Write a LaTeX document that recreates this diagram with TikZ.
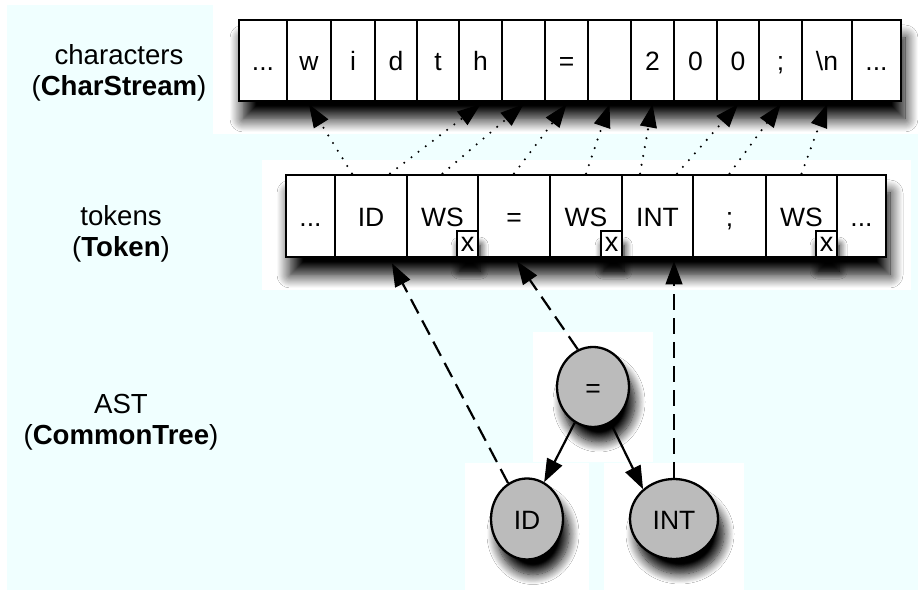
\documentclass[tikz,border=0pt]{standalone}
\usepackage{fontspec}
\setmainfont{Liberation Sans}
\usetikzlibrary{arrows.meta,shapes.geometric,shadows.blur}
\definecolor{bgcyan}{HTML}{F0FFFF}
\definecolor{nodegray}{HTML}{BBBBBB}
\begin{document}
\begin{tikzpicture}[x=1pt,y=1pt,
  rowshadow/.style={blur shadow={shadow xshift=4pt, shadow yshift=-18pt, shadow blur radius=13pt, shadow blur steps=14, shadow opacity=100}},
  cell/.style={draw, line width=2.7pt, fill=white, inner sep=0pt, text height=21pt, text depth=0pt, font=\fontsize{26.5}{30}\selectfont},
  crow/.style={cell, minimum height=81pt},
  trow/.style={cell, minimum height=82pt},
  xbox/.style={draw, line width=2.3pt, fill=white, inner sep=0pt, minimum width=21pt, minimum height=26pt, font=\fontsize{27}{30}\selectfont, anchor=south east, blur shadow={shadow xshift=2pt, shadow yshift=-14pt, shadow blur radius=8pt, shadow blur steps=10, shadow opacity=100}},
  tnode/.style={ellipse, draw, line width=2.3pt, fill=nodegray, inner sep=0pt, text height=21pt, text depth=0pt, font=\fontsize{26.5}{30}\selectfont, blur shadow={shadow xshift=6pt, shadow yshift=-15pt, shadow blur radius=10pt, shadow blur steps=12, shadow opacity=100}},
  lab/.style={align=center, font=\fontsize{27.6}{31}\selectfont},
  arrtip/.style={-{Triangle[length=23pt,width=17pt,fill=black,line width=1pt]}},
  dotarr/.style={arrtip, line width=2.3pt, dash pattern=on 0pt off 9pt, line cap=round},
  dasharr/.style={arrtip, line width=2.2pt, dash pattern=on 16pt off 8pt},
  treearr/.style={arrtip, line width=2.2pt}]
\useasboundingbox (0,0) rectangle (918,591);
% backgrounds
\fill[bgcyan] (7,1) rectangle (918,586);
\fill[white] (213,457) rectangle (918,591);
\fill[white] (262,301) rectangle (911,431);
\fill[white] (533,129) rectangle (653,259);
\fill[white] (465,0) rectangle (589,128);
\fill[white] (604,0) rectangle (744,128);
% labels
\node[lab] (lc) at (119,518.5) {characters\\(\textbf{CharStream})};
\node[lab] (lt) at (121,357.5) {tokens\\(\textbf{Token})};
\node[lab] (la) at (121,168.5) {AST\\(\textbf{CommonTree})};
% character row
\fill[white, rowshadow] (239,490) rectangle (901,571);
\node[crow, minimum width=48pt] (c1) at (263,530.5) {...};
\node[crow, minimum width=44pt] (c2) at (309,530.5) {w};
\node[crow, minimum width=44pt] (c3) at (353,530.5) {i};
\node[crow, minimum width=42pt] (c4) at (396,530.5) {d};
\node[crow, minimum width=42pt] (c5) at (438,530.5) {t};
\node[crow, minimum width=43pt] (c6) at (480.5,530.5) {h};
\node[crow, minimum width=43pt] (c7) at (523.5,530.5) {};
\node[crow, minimum width=43pt] (c8) at (566.5,530.5) {=};
\node[crow, minimum width=43pt] (c9) at (609.5,530.5) {};
\node[crow, minimum width=43pt] (c10) at (652.5,530.5) {2};
\node[crow, minimum width=43pt] (c11) at (695.5,530.5) {0};
\node[crow, minimum width=42pt] (c12) at (738,530.5) {0};
\node[crow, minimum width=43pt] (c13) at (780.5,530.5) {;};
\node[crow, minimum width=50pt] (c14) at (827,530.5) {\textbackslash n};
\node[crow, minimum width=49pt] (c15) at (876.5,530.5) {...};
% token row
\fill[white, rowshadow] (286,334) rectangle (886,416);
\node[trow, minimum width=49pt] (t1) at (310.5,375) {...};
\node[trow, minimum width=72pt] (t2) at (371,375) {ID};
\node[trow, minimum width=71pt] (t3) at (442.5,375) {WS};
\node[trow, minimum width=72pt] (t4) at (514,375) {=};
\node[trow, minimum width=72pt] (t5) at (586,375) {WS};
\node[trow, minimum width=71pt] (t6) at (657.5,375) {INT};
\node[trow, minimum width=73pt] (t7) at (729.5,375) {;};
\node[trow, minimum width=71pt] (t8) at (801.5,375) {WS};
\node[trow, minimum width=49pt] (t9) at (861.5,375) {...};
\node[xbox] (x3) at (t3.south east) {x};
\node[xbox] (x5) at (t5.south east) {x};
\node[xbox] (x8) at (t8.south east) {x};
% tree
\node[tnode, minimum width=72pt, minimum height=80pt] (eq) at (593,204) {=};
\node[tnode, minimum width=72pt, minimum height=81pt] (idn) at (527,72) {ID};
\node[tnode, minimum width=88pt, minimum height=80pt] (intn) at (674,72) {INT};
\draw[treearr] (eq) -- (idn.65);
\draw[treearr] (eq) -- (intn.136);
% dashed links tree -> tokens
\draw[dasharr] (idn) -- ([xshift=21pt,yshift=-5pt]t2.south);
\draw[dasharr] (eq.112) -- ([xshift=3pt,yshift=-3pt]t4.south);
\draw[dasharr] (intn.north) -- ([yshift=-3pt]intn.north |- t6.south);
% dotted links tokens -> characters
\draw[dotarr] ([xshift=-19pt]t2.north) -- ([yshift=-2pt]c2.south);
\draw[dotarr] ([xshift=19pt]t2.north) -- ([yshift=-2pt]c6.south);
\draw[dotarr] (t3.north) -- ([yshift=-2pt]c7.south);
\draw[dotarr] (t4.north) -- ([yshift=-2pt]c8.south);
\draw[dotarr] (t5.north) -- ([yshift=-2pt]c9.south);
\draw[dotarr] ([xshift=-17.5pt]t6.north) -- ([yshift=-2pt]c10.south);
\draw[dotarr] ([xshift=19.5pt]t6.north) -- ([yshift=-2pt]c12.south);
\draw[dotarr] (t7.north) -- ([yshift=-2pt]c13.south);
\draw[dotarr] (t8.north) -- ([yshift=-2pt]c14.south);
\end{tikzpicture}
\end{document}
